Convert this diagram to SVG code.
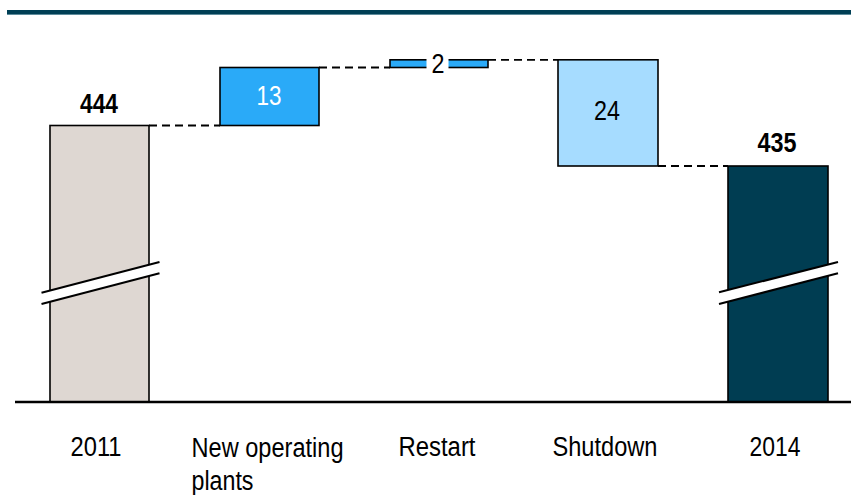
<svg xmlns="http://www.w3.org/2000/svg" width="851" height="495" viewBox="0 0 851 495">
  <style>
    text { font-family: "Liberation Sans", Arial, sans-serif; }
    .bar { stroke: #000; stroke-width: 1.6; }
    .cat { font-size: 27px; fill: #000; }
    .val { font-size: 27px; font-weight: bold; fill: #000; text-anchor: middle; }
    .delta { font-size: 27px; fill: #000; text-anchor: middle; }
    .link { stroke: #000; stroke-width: 1.8; stroke-dasharray: 8 5; fill: none; }
    .brk-line { stroke: #000; stroke-width: 2; }
    .brk-fill { fill: #fff; }
  </style>

  <!-- header rule -->
  <rect x="7" y="10" width="844" height="4" fill="#003F55"/>
  <rect x="7" y="14" width="844" height="1" fill="#5E8C9C"/>

  <!-- connectors -->
  <g id="connectors">
    <line class="link" x1="149" y1="125.5" x2="220" y2="125.5"/>
    <line class="link" x1="319" y1="67.5" x2="390" y2="67.5"/>
    <line class="link" x1="488" y1="59.8" x2="558" y2="59.8"/>
    <line class="link" x1="658" y1="166" x2="728" y2="166"/>
  </g>

  <!-- 2011 total -->
  <g id="bar-2011">
    <rect class="bar" x="50" y="125.5" width="99" height="276.5" fill="#DED7D2"/>
    <polygon class="brk-fill" points="41.5,292.7 159.5,262 159.5,273.3 41.5,304"/>
    <line class="brk-line" x1="41.5" y1="292.7" x2="159.5" y2="262"/>
    <line class="brk-line" x1="41.5" y1="304" x2="159.5" y2="273.3"/>
    <text class="val" x="99" y="112.5" textLength="38" lengthAdjust="spacingAndGlyphs">444</text>
  </g>

  <!-- new operating plants -->
  <g id="bar-new">
    <rect class="bar" x="220" y="67.5" width="99" height="58" fill="#2AAAF8"/>
    <text class="delta" x="269" y="105" style="fill:#fff" textLength="25" lengthAdjust="spacingAndGlyphs">13</text>
  </g>

  <!-- restart -->
  <g id="bar-restart">
    <rect class="bar" x="390" y="59.8" width="98" height="7.7" fill="#2AAAF8"/>
    <rect x="426.5" y="54" width="22" height="20" fill="#fff"/>
    <text class="delta" x="438" y="73" textLength="13" lengthAdjust="spacingAndGlyphs">2</text>
  </g>

  <!-- shutdown -->
  <g id="bar-shutdown">
    <rect class="bar" x="558" y="59.8" width="100" height="106.2" fill="#A6DCFF"/>
    <text class="delta" x="607" y="119.5" textLength="26" lengthAdjust="spacingAndGlyphs">24</text>
  </g>

  <!-- 2014 total -->
  <g id="bar-2014">
    <rect class="bar" x="728" y="166" width="100" height="236" fill="#003D52"/>
    <polygon class="brk-fill" points="719,292.3 838,262 838,273.3 719,304"/>
    <line class="brk-line" x1="719" y1="292.3" x2="838" y2="262"/>
    <line class="brk-line" x1="719" y1="304" x2="838" y2="273.3"/>
    <text class="val" x="777" y="152" textLength="39" lengthAdjust="spacingAndGlyphs">435</text>
  </g>

  <!-- baseline axis -->
  <line x1="15" y1="402" x2="851" y2="402" stroke="#000" stroke-width="2.5"/>

  <!-- category labels -->
  <g id="labels">
    <text class="cat" x="96" y="456" text-anchor="middle" textLength="51" lengthAdjust="spacingAndGlyphs">2011</text>
    <text class="cat" x="191.5" y="457" textLength="152" lengthAdjust="spacingAndGlyphs">New operating</text>
    <text class="cat" x="191.5" y="489.5" textLength="62" lengthAdjust="spacingAndGlyphs">plants</text>
    <text class="cat" x="437" y="456" text-anchor="middle" textLength="77" lengthAdjust="spacingAndGlyphs">Restart</text>
    <text class="cat" x="605" y="456" text-anchor="middle" textLength="105" lengthAdjust="spacingAndGlyphs">Shutdown</text>
    <text class="cat" x="775" y="456" text-anchor="middle" textLength="51" lengthAdjust="spacingAndGlyphs">2014</text>
  </g>
</svg>
